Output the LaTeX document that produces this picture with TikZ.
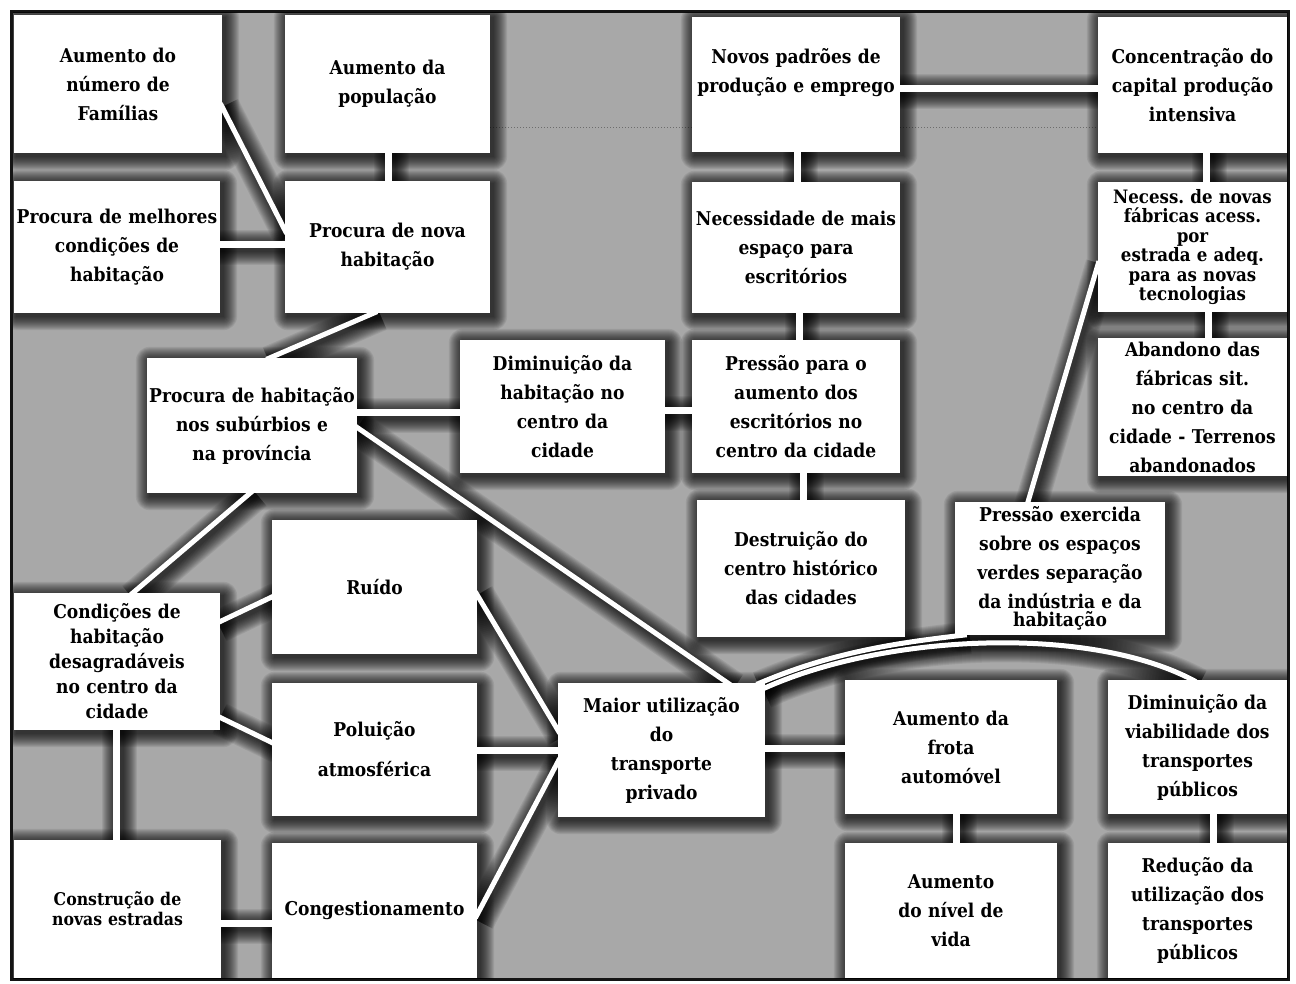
\documentclass[tikz,border=0pt]{standalone}
\usepackage{fontspec}
\newfontfamily\boxfam{DejaVu Serif}[FakeStretch=0.9]

\pgfdeclarelayer{bg}
\pgfdeclarelayer{shade}
\pgfdeclarelayer{links}
\pgfsetlayers{bg,shade,links,main}

\definecolor{panel}{HTML}{A8A8A8}
\definecolor{rim}{HTML}{141414}

\tikzset{
  box/.style 2 args={fill=white, inner sep=0pt, align=center,
    text width=#1, minimum width=#1, minimum height=#2,
    font=\boxfam\bfseries\fontsize{19}{29}\selectfont},
  tight/.style={font=\boxfam\bfseries\fontsize{18.5}{19.5}\selectfont},
  mid/.style={font=\boxfam\bfseries\fontsize{19}{25}\selectfont},
  small/.style={font=\boxfam\bfseries\fontsize{17.5}{20}\selectfont},
  faint/.style={black, opacity=0.35, line width=1pt, dotted},
  rimshade/.style={black, opacity=0.075},
}

% white connector band, and its soft dark rim
\newcommand\cnxwhite[2]{\draw[white, line width=#1, shorten <=-4pt, shorten >=-4pt] #2;}
\newcommand\cnxglow[2]{\foreach \r in {1,...,14}{%
  \draw[rimshade, line width={#1+2pt*\r}, shorten <=-4pt, shorten >=-4pt,
        transform canvas={shift={(3pt,-3pt)}}] #2;}}
% soft dark rim around a box
\newcommand\boxglow[1]{\foreach \r in {1,...,14}{%
  \fill[rimshade, rounded corners=\r pt]
    ([shift={(3-\r,3-\r)}]#1.north west) rectangle ([shift={(3+\r,3+\r)}]#1.south east);}}

\newcommand\cnxlist{%
  % bands between neighbouring boxes
  \cnx{7pt}{([xshift=1pt]pop.south) -- ([xshift=1pt]pnova.north)}%
  \cnx{7pt}{([yshift=2pt]pmelh.east) -- ([yshift=2pt]pnova.west)}%
  \cnx{7pt}{([yshift=-4pt]novos.east) -- ([yshift=-3.5pt]conc.west)}%
  \cnx{7pt}{([xshift=1pt]novos.south) -- ([xshift=1pt]necd.north)}%
  \cnx{7pt}{([xshift=13.5pt]conc.south) -- ([xshift=13.5pt]nfab.north)}%
  \cnx{7pt}{([xshift=16pt]nfab.south) -- ([xshift=16pt]aband.north)}%
  \cnx{7pt}{([xshift=3pt]necd.south) -- ([xshift=3pt]pres.north)}%
  \cnx{7pt}{([yshift=-3.5pt]pres.west) -- ([yshift=-3.5pt]dimh.east)}%
  \cnx{7pt}{([yshift=-6pt]dimh.west) -- ([yshift=13pt]subu.east)}%
  \cnx{7pt}{([xshift=7.5pt]pres.south) -- ([xshift=2.5pt]destr.north)}%
  \cnx{7pt}{([yshift=2pt]maior.east) -- ([yshift=-1pt]frota.west)}%
  \cnx{7pt}{([yshift=-0.5pt]polu.east) -- (maior.west)}%
  \cnx{7pt}{([xshift=5.5pt]frota.south) -- ([xshift=5.5pt]nivel.north)}%
  \cnx{7pt}{([xshift=16pt]dimv.south) -- ([xshift=16pt]redu.north)}%
  \cnx{7pt}{([xshift=-0.5pt]cond.south) -- ([xshift=-1pt]constr.north)}%
  \cnx{7pt}{([yshift=-14.5pt]constr.east) -- ([yshift=-13pt]cong.west)}%
  % long links
  \cnx{5pt}{([yshift=-23pt]famil.east) -- ([yshift=17pt]pnova.west)}%
  \cnx{5pt}{([xshift=-14pt]pnova.south) -- ([xshift=18pt]subu.north)}%
  \cnx{5pt}{([yshift=-2pt]subu.east) -- ([xshift=66pt]maior.north)}%
  \cnx{5pt}{([xshift=-2pt]subu.south) -- ([xshift=16pt]cond.north)}%
  \cnx{5pt}{([yshift=40pt]cond.east) -- ([yshift=-10pt]ruido.west)}%
  \cnx{5pt}{([yshift=-56pt]cond.east) -- ([yshift=7pt]polu.west)}%
  \cnx{5pt}{([yshift=-8pt]ruido.east) -- ([yshift=20pt]maior.west)}%
  \cnx{5pt}{([yshift=-4pt]cong.east) -- ([yshift=-12pt]maior.west)}%
  \cnx{5pt}{([yshift=-18pt]nfab.west) -- ([xshift=-32pt]pexe.north)}%
  \cnx{5pt}{([xshift=-5pt]maior.north east) .. controls +(70,-30) and +(-70,8) .. ([xshift=8pt]pexe.south west)}%
  \cnx{5pt}{([yshift=-5pt]maior.north east) .. controls +(120,-55) and +(-100,-55) .. ([xshift=-5pt]dimv.north)}%
}

\begin{document}
\begin{tikzpicture}[x=1pt,y=-1pt]
\useasboundingbox (0,0) rectangle (1296,984);

\begin{pgfonlayer}{bg}
  \fill[white] (0,0) rectangle (1296,984);
  \fill[panel] (10,10) rectangle (1290,981);
  \draw[rim, line width=3pt] (11.5,11.5) rectangle (1288.5,979.5);
\end{pgfonlayer}

% boxes
\node[box={208pt}{138pt}] (famil) at (118,84) {Aumento do\\número de\\Famílias};
\node[box={205pt}{138pt}] (pop) at (387.5,84) {Aumento da\\população};
\node[box={208pt}{135pt}] (novos) at (796,84.5) {Novos padrões de\\produção e emprego\\\mbox{}};
\node[box={189pt}{136pt}] (conc) at (1192.5,85) {Concentração do\\capital produção\\intensiva};
\node[box={206pt}{132pt}] (pmelh) at (117,247) {Procura de melhores\\condições de\\habitação};
\node[box={205pt}{132pt}] (pnova) at (387.5,247) {Procura de nova\\habitação};
\node[box={208pt}{131pt}] (necd) at (796,247.5) {Necessidade de mais\\espaço para\\escritórios};
\node[box={189pt}{130pt}, tight] (nfab) at (1192.5,247) {Necess.\ de novas\\fábricas acess.\\por\\estrada e adeq.\\para as novas\\tecnologias};
\node[box={210pt}{135pt}] (subu) at (252,425.5) {Procura de habitação\\nos subúrbios e\\na província};
\node[box={205pt}{133pt}] (dimh) at (562.5,406.5) {Diminuição da\\habitação no\\centro da\\cidade};
\node[box={208pt}{133pt}] (pres) at (796,406.5) {Pressão para o\\aumento dos\\escritórios no\\centro da cidade};
\node[box={189pt}{138pt}] (aband) at (1192.5,407) {Abandono das\\fábricas sit.\\no centro da\\cidade - Terrenos\\abandonados};
\node[box={205pt}{134pt}] (ruido) at (374.5,587) {Ruído};
\node[box={208pt}{137pt}] (destr) at (801,568.5) {Destruição do\\centro histórico\\das cidades};
\node[box={210pt}{133pt}] (pexe) at (1060,568.5) {Pressão exercida\\sobre os espaços\\verdes separação\\da indústria e da\\[-11pt]habitação};
\node[box={206pt}{137pt}, mid] (cond) at (117,661.5) {Condições de\\habitação\\desagradáveis\\no centro da\\cidade};
\node[box={205pt}{133pt}] (polu) at (374.5,749.5) {Poluição\\[11pt]atmosférica};
\node[box={207pt}{134pt}] (maior) at (661.5,750) {Maior utilização\\do\\transporte\\privado};
\node[box={212pt}{134pt}] (frota) at (951,747) {Aumento da\\frota\\automóvel};
\node[box={179pt}{134pt}] (dimv) at (1197.5,747) {Diminuição da\\viabilidade dos\\transportes\\públicos};
\node[box={207pt}{138pt}, small] (constr) at (117.5,909) {Construção de\\novas estradas};
\node[box={205pt}{135pt}] (cong) at (374.5,910.5) {Congestionamento};
\node[box={212pt}{135pt}] (nivel) at (951,910.5) {Aumento\\do nível de\\vida};
\node[box={179pt}{135pt}] (redu) at (1197.5,910.5) {Redução da\\utilização dos\\transportes\\públicos};

% white connector bands
\begin{pgfonlayer}{links}
  \let\cnx\cnxwhite
  \cnxlist
  \draw[faint] (pop.east |- 0,128) -- (novos.west |- 0,128);
  \draw[faint] (novos.east |- 0,128) -- (conc.west |- 0,128);
\end{pgfonlayer}

% soft shadows of boxes and bands
\begin{pgfonlayer}{shade}
  \clip (13,13) rectangle (1287,978);
  \let\cnx\cnxglow
  \cnxlist
  \foreach \n in {famil,pop,novos,conc,pmelh,pnova,necd,nfab,subu,dimh,pres,aband,
                  ruido,destr,pexe,cond,polu,maior,frota,dimv,constr,cong,nivel,redu}
    {\boxglow{\n}}
\end{pgfonlayer}
\end{tikzpicture}
\end{document}
